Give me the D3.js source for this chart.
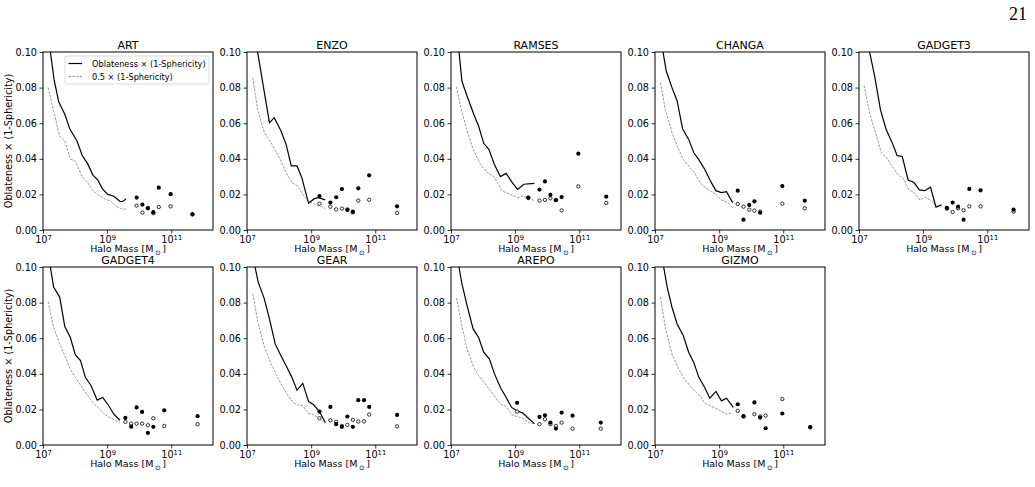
<!DOCTYPE html>
<html><head><meta charset="utf-8">
<script src="https://cdn.jsdelivr.net/npm/d3@7"></script>
<style>body{margin:0;background:#fff}svg{display:block}text{font-family:"DejaVu Sans",sans-serif;font-weight:normal}</style>
</head><body><svg id="c" width="1035" height="487"></svg>
<script>
const codes = ["ART","ENZO","RAMSES","CHANGA","GADGET3","GADGET4","GEAR","AREPO","GIZMO"];
const xTicks = [1e7, 1e9, 1e11];
const yTicks = [0, 0.02, 0.04, 0.06, 0.08, 0.10];
const legendLabels = ["Oblateness \u00d7 (1-Sphericity)", "0.5 \u00d7  (1-Sphericity)"];
// log10 halo mass and values for the solid (oblateness x (1-sphericity)) curve
const solidLogM = [
 [7.23,7.35,7.49,7.68,7.83,8.06,8.22,8.40,8.55,8.71,8.86,9.02,9.21,9.40,9.49,9.59],
 [7.33,7.49,7.70,7.85,8.06,8.22,8.38,8.56,8.71,8.79,8.92,9.10,9.23,9.44],
 [7.25,7.34,7.50,7.71,7.86,8.02,8.18,8.35,8.54,8.72,8.91,9.08,9.27,9.60],
 [7.25,7.35,7.53,7.69,7.86,8.05,8.21,8.36,8.55,8.73,8.90,9.07,9.23,9.42],
 [7.33,7.49,7.67,7.85,8.04,8.19,8.35,8.53,8.71,8.88,9.05,9.23,9.40,9.57],
 [7.23,7.33,7.52,7.68,7.85,8.01,8.17,8.32,8.50,8.69,8.86,9.02,9.21,9.40],
 [7.25,7.35,7.54,7.70,7.88,8.06,8.22,8.40,8.56,8.74,8.92,9.08,9.26,9.44],
 [7.25,7.34,7.50,7.69,7.86,8.02,8.20,8.36,8.54,8.72,8.89,9.06,9.24,9.41,9.60],
 [7.27,7.38,7.53,7.69,7.88,8.05,8.21,8.36,8.55,8.71,8.90,9.07,9.23,9.44]
];
const solidVal = [
 [0.100,0.084,0.072,0.065,0.057,0.050,0.042,0.037,0.031,0.028,0.023,0.020,0.019,0.016,0.016,0.0175],
 [0.100,0.0828,0.0603,0.0631,0.0556,0.0481,0.0360,0.0360,0.0294,0.0238,0.0150,0.0176,0.0182,0.0169],
 [0.100,0.0837,0.0753,0.0650,0.0584,0.0487,0.0453,0.0369,0.0300,0.0318,0.0266,0.0228,0.0257,0.0262],
 [0.100,0.0893,0.0800,0.0725,0.0569,0.0509,0.0434,0.0397,0.0341,0.0275,0.0221,0.0210,0.0215,0.0154],
 [0.100,0.0863,0.0675,0.0563,0.0488,0.0418,0.0413,0.0281,0.0268,0.0225,0.0221,0.0240,0.0128,0.0141],
 [0.100,0.0887,0.0831,0.0665,0.0605,0.0506,0.0474,0.0380,0.0333,0.0252,0.0267,0.0229,0.0173,0.0139],
 [0.100,0.0915,0.0821,0.0709,0.0568,0.0502,0.0445,0.0380,0.0308,0.0346,0.0244,0.0226,0.0188,0.0126],
 [0.100,0.0906,0.0784,0.0652,0.0605,0.0521,0.0483,0.0398,0.0323,0.0267,0.0211,0.0192,0.0179,0.0150,0.0120],
 [0.100,0.0887,0.0774,0.0680,0.0615,0.0521,0.0464,0.0383,0.0323,0.0263,0.0301,0.0248,0.0263,0.0211]
];
// dashed 0.5 x (1-sphericity) curve
const dashLogM = [
 [7.16,7.33,7.52,7.68,7.85,8.01,8.22,8.38,8.58,8.79,8.98,9.10,9.26,9.42,9.59],
 [7.18,7.33,7.54,7.75,8.01,8.22,8.40,8.58,8.74,8.90,9.10,9.26,9.44],
 [7.17,7.29,7.50,7.71,7.92,8.13,8.33,8.46,8.59,8.77,8.96,9.08,9.22,9.37,9.60],
 [7.17,7.32,7.53,7.69,7.88,8.05,8.23,8.40,8.57,8.73,8.90,9.07,9.25,9.42],
 [7.16,7.33,7.52,7.70,7.88,8.04,8.22,8.37,8.56,8.71,8.90,9.05,9.23,9.40,9.57],
 [7.16,7.33,7.52,7.68,7.85,8.01,8.22,8.40,8.58,8.77,8.95,9.14,9.40],
 [7.18,7.35,7.54,7.73,7.91,8.06,8.25,8.43,8.58,8.74,8.92,9.08,9.26,9.44],
 [7.17,7.34,7.50,7.71,7.86,8.04,8.23,8.39,8.54,8.72,8.89,9.06,9.24,9.41,9.60],
 [7.17,7.32,7.53,7.69,7.88,8.05,8.23,8.40,8.55,8.73,8.90,9.07,9.25,9.42]
];
const dashVal = [
 [0.080,0.067,0.0525,0.050,0.040,0.0385,0.030,0.027,0.0215,0.019,0.017,0.0165,0.0137,0.012,0.0116],
 [0.0856,0.0678,0.0547,0.0491,0.0406,0.0322,0.0266,0.0247,0.0200,0.0163,0.0144,0.0135,0.0122],
 [0.0805,0.0700,0.0556,0.0444,0.0369,0.0322,0.0303,0.0262,0.0219,0.0206,0.0191,0.0182,0.0191,0.0182,0.0165],
 [0.0828,0.0678,0.0547,0.0472,0.0397,0.0360,0.0322,0.0266,0.0238,0.0219,0.0200,0.0169,0.0157,0.0125],
 [0.0812,0.0657,0.0544,0.0432,0.0403,0.0356,0.0310,0.0291,0.0225,0.0212,0.0169,0.0184,0.0169,0.0135,0.0135],
 [0.0806,0.0662,0.0568,0.0502,0.0427,0.0380,0.0323,0.0276,0.0233,0.0201,0.0169,0.0148,0.0126],
 [0.0850,0.0680,0.0553,0.0464,0.0398,0.0342,0.0286,0.0239,0.0226,0.0220,0.0177,0.0169,0.0150,0.0120],
 [0.0827,0.0671,0.0539,0.0436,0.0389,0.0351,0.0305,0.0267,0.0229,0.0216,0.0169,0.0160,0.0150,0.0126,0.0120],
 [0.0831,0.0662,0.0511,0.0445,0.0380,0.0342,0.0305,0.0276,0.0235,0.0220,0.0207,0.0188,0.0173,0.0182]
];
// individual massive haloes: filled = oblateness x (1-sphericity), open = 0.5 x (1-sphericity)
const haloLogM = [
 [9.92,10.10,10.27,10.44,10.61,10.98,11.66],
 [9.26,9.60,9.78,9.96,10.13,10.30,10.47,10.81,11.68],
 [9.41,9.76,9.93,10.10,10.27,10.45,10.97,11.84],
 [9.58,9.76,9.94,10.10,10.28,10.97,11.67],
 [9.74,9.92,10.09,10.26,10.44,10.79,11.82],
 [9.57,9.75,9.92,10.09,10.27,10.44,10.78,11.82],
 [9.26,9.60,9.78,9.96,10.13,10.30,10.47,10.65,10.81,11.68],
 [9.06,9.76,9.93,10.10,10.27,10.45,10.79,11.67],
 [9.58,9.76,10.10,10.28,10.45,10.97,11.84]
];
const haloFilled = [
 [0.0182,0.0143,0.0122,0.0100,0.0238,0.0201,0.0088],
 [0.0191,0.0154,0.0184,0.0230,0.0112,0.0103,0.0234,0.0307,0.0133],
 [0.0182,0.0227,0.0273,0.0197,0.0167,0.0185,0.0429,0.0187],
 [0.0221,0.0058,0.0140,0.0161,0.0097,0.0247,0.0165],
 [0.0124,0.0154,0.0131,0.0058,0.0231,0.0223,0.0114],
 [0.0152,0.0103,0.0211,0.0186,0.0068,0.0102,0.0195,0.0162],
 [0.0188,0.0214,0.0117,0.0102,0.0160,0.0102,0.0252,0.0252,0.0214,0.0169],
 [0.0237,0.0158,0.0167,0.0126,0.0092,0.0182,0.0165,0.0126],
 [0.0229,0.0162,0.0239,0.0154,0.0094,0.0177,0.0100]
];
const haloOpen = [
 [0.0137,0.0098,0.0124,0.0094,0.0129,0.0133,0.0088],
 [0.0148,0.0131,0.0116,0.0120,0.0116,0.0099,0.0165,0.0170,0.0096],
 [0.0180,0.0165,0.0169,0.0178,0.0169,0.0110,0.0245,0.0152],
 [0.0146,0.0131,0.0114,0.0109,0.0103,0.0148,0.0122],
 [0.0120,0.0101,0.0122,0.0111,0.0133,0.0133,0.0103],
 [0.0130,0.0120,0.0120,0.0120,0.0111,0.0150,0.0107,0.0117],
 [0.0150,0.0139,0.0130,0.0107,0.0113,0.0141,0.0132,0.0133,0.0171,0.0105],
 [0.0188,0.0117,0.0145,0.0117,0.0107,0.0126,0.0092,0.0092],
 [0.0192,0.0160,0.0173,0.0160,0.0165,0.0258,0.0100]
];

const svg = d3.select("#c");
const W = 170, H = 178;
const lefts = [43, 247, 451, 655, 859];
const tops = [52, 267];
const x = d3.scaleLog().domain([1e7, 2e12]).range([0, W]);
const y = d3.scaleLinear().domain([0, 0.1]).range([H, 0]);
const FS = 9.7;

// page number
svg.append("text").attr("x", 1027).attr("y", 20).attr("text-anchor", "end")
  .style("font-family", "'Liberation Serif','DejaVu Serif',serif").style("font-size", "18px").text("21");

codes.forEach((code, i) => {
  const row = Math.floor(i / 5), col = i % 5;
  const g = svg.append("g").attr("transform", `translate(${lefts[col]},${tops[row]})`);
  const clipId = "clip" + i;
  g.append("clipPath").attr("id", clipId).append("rect").attr("width", W).attr("height", H);

  // x axis
  const xa = g.append("g").attr("transform", `translate(0,${H})`)
    .call(d3.axisBottom(x).tickValues(xTicks).tickSize(3.5).tickPadding(2.5).tickFormat(d => ""));
  xa.select(".domain").remove();
  xa.selectAll(".tick line").attr("stroke", "#000").attr("stroke-width", 0.8);
  xa.selectAll(".tick text").each(function(d) {
    const t = d3.select(this).attr("fill", "#000").style("font-size", FS + "px").style("font-family", "'DejaVu Sans'");
    t.append("tspan").text("10");
    t.append("tspan").attr("dy", "-0.45em").style("font-size", (FS * 0.7) + "px").text(Math.round(Math.log10(d)));
  });
  // y axis
  const ya = g.append("g")
    .call(d3.axisLeft(y).tickValues(yTicks).tickSize(3.5).tickPadding(2.5).tickFormat(d3.format(".2f")));
  ya.select(".domain").remove();
  ya.selectAll(".tick line").attr("stroke", "#000").attr("stroke-width", 0.8);
  ya.selectAll(".tick text").attr("fill", "#000").style("font-size", FS + "px").style("font-family", "'DejaVu Sans'");

  const plot = g.append("g").attr("clip-path", `url(#${clipId})`);
  const line = d3.line().x(d => x(Math.pow(10, d[0]))).y(d => y(d[1]));
  plot.append("path").datum(dashLogM[i].map((m, k) => [m, dashVal[i][k]]))
    .attr("d", line).attr("fill", "none").attr("stroke", "#808080").attr("stroke-width", 0.8)
    .attr("stroke-dasharray", "2.6,1.2");
  plot.append("path").datum(solidLogM[i].map((m, k) => [m, solidVal[i][k]]))
    .attr("d", line).attr("fill", "none").attr("stroke", "#000").attr("stroke-width", 1.2);

  plot.selectAll(".op").data(haloLogM[i].map((m, k) => [m, haloOpen[i][k]])).enter()
    .append("circle").attr("cx", d => x(Math.pow(10, d[0]))).attr("cy", d => y(d[1])).attr("r", 1.7)
    .attr("fill", "#fff").attr("stroke", "#000").attr("stroke-width", 0.8);
  plot.selectAll(".fp").data(haloLogM[i].map((m, k) => [m, haloFilled[i][k]])).enter()
    .append("circle").attr("cx", d => x(Math.pow(10, d[0]))).attr("cy", d => y(d[1])).attr("r", 2.1)
    .attr("fill", "#000");

  // frame
  g.append("rect").attr("width", W).attr("height", H).attr("fill", "none").attr("stroke", "#000").attr("stroke-width", 1);

  // title
  g.append("text").attr("x", W / 2).attr("y", -3).attr("text-anchor", "middle").style("font-size", "11px").text(code);

  // x label
  const xl = g.append("text").attr("x", W / 2).attr("y", H + 22).attr("text-anchor", "middle").style("font-size", "9.5px");
  xl.append("tspan").text("Halo Mass [M");
  xl.append("tspan").attr("dx", "1.5").attr("dy", "2.5").style("font-size", "6.8px").text("\u2299");
  xl.append("tspan").attr("dx", "1.5").attr("dy", "-2.5").text("]");

  // y label
  if (col === 0) {
    g.append("text").attr("transform", `translate(-31,${H / 2}) rotate(-90)`).attr("text-anchor", "middle")
      .style("font-size", "9.7px").text("Oblateness \u00d7 (1-Sphericity)");
  }

  // legend
  if (i === 0) {
    const lg = g.append("g").attr("transform", "translate(22,4)");
    lg.append("rect").attr("width", 144).attr("height", 28).attr("rx", 2)
      .attr("fill", "#fff").attr("fill-opacity", 0.8).attr("stroke", "#d0d0d0").attr("stroke-width", 0.8);
    lg.append("line").attr("x1", 3.5).attr("x2", 17).attr("y1", 7.5).attr("y2", 7.5).attr("stroke", "#000").attr("stroke-width", 1.2);
    lg.append("line").attr("x1", 3.5).attr("x2", 17).attr("y1", 20.5).attr("y2", 20.5).attr("stroke", "#808080")
      .attr("stroke-width", 0.8).attr("stroke-dasharray", "2.6,1.2");
    legendLabels.forEach((lab, k) => {
      lg.append("text").attr("x", 27).attr("y", 10.5 + k * 13).style("font-size", "8.2px").text(lab);
    });
  }
});
</script>
</body></html>
